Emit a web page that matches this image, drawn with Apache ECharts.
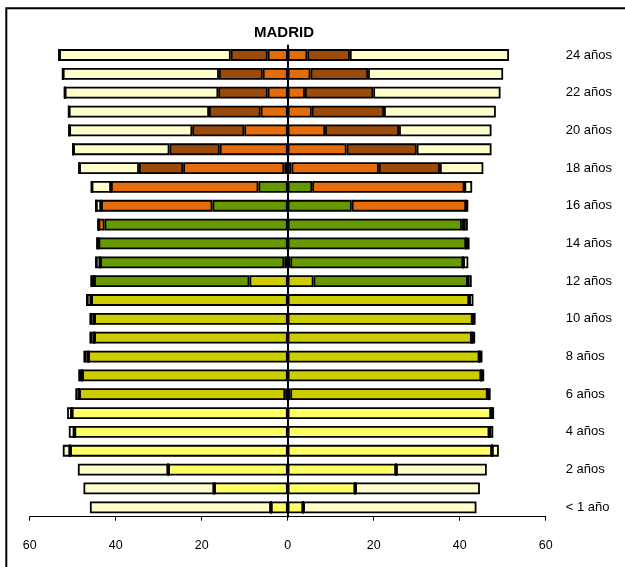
<!DOCTYPE html>
<html>
<head>
<meta charset="utf-8">
<script src="https://cdn.jsdelivr.net/npm/echarts@6/dist/echarts.min.js"></script>
<style>
html,body{margin:0;padding:0;background:#fff;}
#c{width:625px;height:567px;}
</style>
</head>
<body>
<div id="c"></div>
<script>
// Categories (bottom to top)
const ages = ['< 1 año','1 año','2 años','3 años','4 años','5 años','6 años','7 años','8 años','9 años','10 años','11 años','12 años','13 años','14 años','15 años','16 años','17 años','18 años','19 años','20 años','21 años','22 años','23 años','24 años'];
const xTicks = [-60, -40, -20, 0, 20, 40, 60];

// Left side (drawn to the left of zero)
const infantilL  = [3.9,17.1,27.8,50.6,49.6,50.2,0.6,0,0,0,0,0,0,0,0,0,0,0,0,0,0,0,0,0,0];
const primariaL  = [0,0,0,0,0,0,47.9,47.8,46.4,45.0,45.0,45.7,8.9,0.8,0,0,0,0,0,0,0,0,0,0,0];
const esoL       = [0,0,0,0,0,0,0,0,0,0,0,0,36.1,42.8,44.0,42.6,17.5,6.8,0.8,0,0,0,0,0,0];
const bachL      = [0,0,0,0,0,0,0,0,0,0,0,0,0,0,0,1.4,25.9,34.3,23.5,15.8,10.1,6.3,4.65,5.8,4.65];
const univL      = [0,0,0,0,0,0,0,0,0,0,0,0,0,0,0,0,0,0,10.3,11.7,12.1,12.0,11.5,10.2,8.6];
const noEscL     = [42.1,30.4,21.0,1.7,1.3,1.1,0.9,0.7,0.9,0.9,0.9,1.0,0.7,1.0,0.3,0,1.2,4.5,13.9,22.4,28.6,32.6,35.7,36.3,39.9];

// Right side
const infantilR  = [3.6,15.7,25.2,47.5,46.9,47.3,0.6,0,0,0,0,0,0,0,0,0,0,0,0,0,0,0,0,0,0];
const primariaR  = [0,0,0,0,0,0,45.9,45.0,44.6,42.8,43.0,42.2,6.0,0.6,0,0,0,0,0,0,0,0,0,0,0];
const esoR       = [0,0,0,0,0,0,0,0,0,0,0,0,35.9,40.2,41.5,40.5,14.9,5.7,0.9,0,0,0,0,0,0];
const bachR      = [0,0,0,0,0,0,0,0,0,0,0,0,0,0,0,0.5,26.6,35.4,20.3,13.7,8.7,5.6,4.0,5.3,4.56];
const univR      = [0,0,0,0,0,0,0,0,0,0,0,0,0,0,0,0,0,0,14.2,16.3,17.2,16.8,15.9,13.4,9.9];
const noEscR     = [40.3,29.0,21.1,1.6,0.9,0.7,0.7,0.7,0.7,0.8,0.7,1.0,0.9,1.2,0.8,0.9,0.5,1.8,10.1,17.4,21.5,26.0,29.6,31.4,37.0];

const colors = {
  infantil: '#FFFF66',
  primaria: '#CCCC00',
  eso: '#669900',
  bach: '#E46C0A',
  univ: '#9B4A09',
  noEsc: '#FFFFCC'
};

const FONT = 'Arial, "Liberation Sans", sans-serif';

function mk(name, arr, color, neg) {
  return {
    name: name,
    type: 'bar',
    stack: 'total',
    yAxisIndex: 0,
    barWidth: 11.8,
    data: arr.map(v => neg ? -v : v),
    itemStyle: { color: color, borderColor: '#000', borderWidth: 1.8 },
    emphasis: { disabled: true },
    silent: true
  };
}

const series = [
  mk('Infantil', infantilL, colors.infantil, true),
  mk('Primaria', primariaL, colors.primaria, true),
  mk('ESO', esoL, colors.eso, true),
  mk('Bachillerato/FP', bachL, colors.bach, true),
  mk('Universidad', univL, colors.univ, true),
  mk('No escolarizado', noEscL, colors.noEsc, true),
  mk('Infantil', infantilR, colors.infantil, false),
  mk('Primaria', primariaR, colors.primaria, false),
  mk('ESO', esoR, colors.eso, false),
  mk('Bachillerato/FP', bachR, colors.bach, false),
  mk('Universidad', univR, colors.univ, false),
  mk('No escolarizado', noEscR, colors.noEsc, false)
];

const chart = echarts.init(document.getElementById('c'), null, { renderer: 'canvas' });
chart.setOption({
  animation: false,
  backgroundColor: '#fff',
  grid: { left: 29.7, right: 79.3, top: 45.6, bottom: 50.3, containLabel: false },
  graphic: [
    { type: 'rect', shape: { x: 6.3, y: 8.3, width: 800, height: 800 }, style: { fill: 'none', stroke: '#000', lineWidth: 2 }, silent: true, z: 100 },
    { type: 'text', x: 284, y: 33, style: { text: 'MADRID', font: 'bold 15px ' + FONT, fill: '#000', align: 'center', verticalAlign: 'middle' }, silent: true }
  ],
  xAxis: {
    type: 'value',
    min: xTicks[0],
    max: xTicks[xTicks.length - 1],
    interval: 20,
    splitLine: { show: false },
    axisLine: { show: true, onZero: false, lineStyle: { color: '#000', width: 1 } },
    axisTick: { show: true, inside: false, length: 4, lineStyle: { color: '#000' } },
    axisLabel: { formatter: v => String(Math.abs(v)), color: '#000', fontSize: 12.5, fontFamily: FONT, margin: 22 }
  },
  yAxis: [
    {
      type: 'category',
      data: ages,
      z: 10,
      axisLine: { show: true, onZero: true, lineStyle: { color: '#000', width: 2 } },
      axisTick: { show: false },
      axisLabel: { show: false },
      splitLine: { show: false }
    },
    {
      type: 'category',
      data: ages,
      position: 'right',
      axisLine: { show: false, onZero: false },
      axisTick: { show: false },
      axisLabel: { show: true, interval: 1, color: '#000', fontSize: 13, fontFamily: FONT, margin: 20, align: 'left' },
      splitLine: { show: false }
    }
  ],
  series: series
});
</script>
</body>
</html>
